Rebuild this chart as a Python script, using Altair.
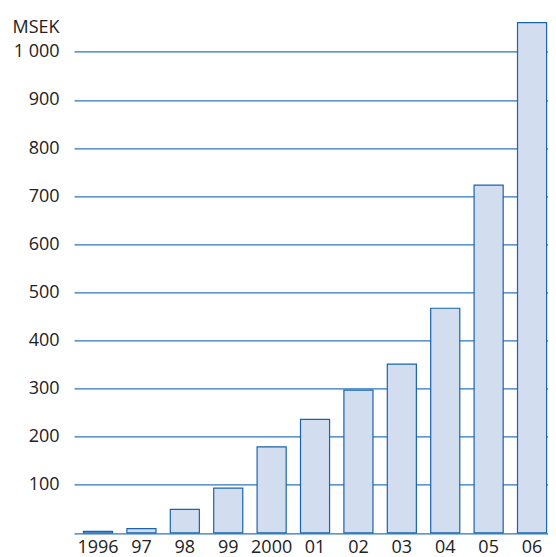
import altair as alt
import pandas as pd

years = ["1996", "97", "98", "99", "2000", "01", "02", "03", "04", "05", "06"]
values = [3, 9, 49, 93, 179, 236, 297, 351, 467, 723, 1061]
y_ticks = [0, 100, 200, 300, 400, 500, 600, 700, 800, 900, 1000]

df = pd.DataFrame({"year": years, "msek": values})

FONT = "Open Sans"
GRID = "#2c74b8"

chart = (
    alt.Chart(df)
    .mark_bar(fill="#d2ddef", stroke="#1a64ab", strokeWidth=1.2)
    .encode(
        x=alt.X(
            "year:N",
            sort=years,
            scale=alt.Scale(paddingInner=0.33, paddingOuter=0.1256, align=0.87),
            axis=alt.Axis(
                title=None,
                labelAngle=0,
                domain=False,
                ticks=False,
                labelPadding=6,
                labelFont=FONT,
                labelFontSize=18,
                labelColor="#222222",
            ),
        ),
        y=alt.Y(
            "msek:Q",
            scale=alt.Scale(domain=[0, 1080], nice=False),
            axis=alt.Axis(
                values=y_ticks,
                labelExpr="datum.value == 0 ? '' : (datum.value == 1000 ? '1 000' : datum.label)",
                domain=False,
                ticks=False,
                labelPadding=15,
                labelFont=FONT,
                labelFontSize=18,
                labelColor="#222222",
                grid=True,
                gridColor=GRID,
                gridWidth=1.3,
                gridOpacity=1,
                title="MSEK",
                titleAngle=0,
                titleAlign="right",
                titleBaseline="alphabetic",
                titleX=-15,
                titleY=19.6,
                titleFont=FONT,
                titleFontSize=18,
                titleFontWeight="normal",
                titleColor="#222222",
            ),
        ),
    )
    .properties(
        width=474,
        height=519.5,
        autosize=alt.AutoSizeParams(type="none"),
        padding={"left": 66, "top": 5.4, "right": 0, "bottom": 32},
    )
    .configure_view(stroke=None)
)

chart.save("out.html", embed_options={"renderer": "svg", "actions": False})
